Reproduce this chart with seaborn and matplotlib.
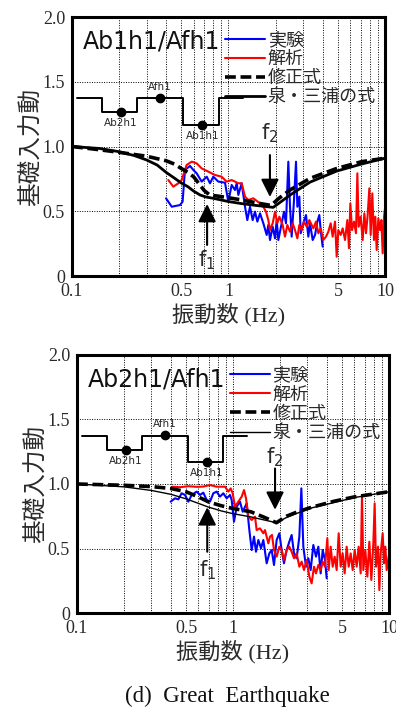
import numpy as np
import pandas as pd
import matplotlib
matplotlib.use('Agg')
import matplotlib.pyplot as plt
from matplotlib.ticker import FixedLocator, NullFormatter
import seaborn as sns

# 1. Dati

# pannello superiore: Ab1h1/Afh1
top_blue_f = [0.399, 0.434, 0.490, 0.509, 0.527, 0.568, 0.596, 0.626, 0.674, 0.726,
              0.762, 0.800, 0.861, 0.950, 0.997, 1.048, 1.100, 1.128, 1.156, 1.214,
              1.275, 1.319, 1.372, 1.427, 1.477, 1.529, 1.590, 1.670, 1.754, 1.797,
              1.842, 1.916, 1.983, 2.032, 2.082, 2.187, 2.263, 2.330, 2.412, 2.472,
              2.533, 2.622, 2.700, 2.754, 2.836, 2.892, 3.008, 3.128, 3.237, 3.318,
              3.451, 3.572, 3.697, 3.806, 3.882, 3.997]
top_blue_v = [0.600, 0.535, 0.548, 0.574, 0.819, 0.850, 0.819, 0.793, 0.729, 0.767,
              0.716, 0.767, 0.729, 0.721, 0.574, 0.703, 0.664, 0.716, 0.626, 0.716,
              0.535, 0.432, 0.535, 0.432, 0.497, 0.420, 0.484, 0.407, 0.317, 0.394,
              0.278, 0.381, 0.291, 0.432, 0.278, 0.407, 0.497, 0.407, 0.883, 0.535,
              0.304, 0.587, 0.883, 0.535, 0.613, 0.330, 0.407, 0.471, 0.304, 0.407,
              0.278, 0.317, 0.420, 0.471, 0.355, 0.227]

top_red_f = [0.4125, 0.444, 0.478, 0.502, 0.540, 0.582, 0.626, 0.674, 0.743, 0.820,
             0.904, 0.973, 1.048, 1.100, 1.156, 1.214, 1.275, 1.339, 1.441, 1.590,
             1.670, 1.736, 1.797, 1.842, 1.916, 1.983, 2.051, 2.113, 2.219, 2.296,
             2.377, 2.472, 2.570, 2.661, 2.754, 2.836, 2.935, 3.038, 3.159, 3.285,
             3.401, 3.485, 3.624, 3.751, 3.882, 4.036, 4.198, 4.345, 4.497, 4.631,
             4.793, 4.912, 5.034, 5.210, 5.366, 5.554, 5.748, 5.889, 6.006, 6.155,
             6.339, 6.528, 6.658, 6.790, 6.992, 7.200, 7.379, 7.562, 7.750, 7.942,
             8.100, 8.300, 8.506, 8.675, 8.847, 9.067, 9.292, 9.478, 9.666, 9.856, 10.0]
top_red_v = [0.741, 0.690, 0.716, 0.741, 0.857, 0.883, 0.870, 0.831, 0.806, 0.780,
             0.767, 0.729, 0.741, 0.729, 0.716, 0.716, 0.613, 0.587, 0.600, 0.561,
             0.535, 0.497, 0.432, 0.355, 0.407, 0.497, 0.407, 0.458, 0.394, 0.304,
             0.394, 0.342, 0.407, 0.355, 0.291, 0.394, 0.355, 0.420, 0.381, 0.432,
             0.394, 0.368, 0.420, 0.330, 0.368, 0.278, 0.304, 0.342, 0.407, 0.304,
             0.420, 0.149, 0.355, 0.317, 0.368, 0.278, 0.432, 0.214, 0.561, 0.355,
             0.420, 0.330, 0.793, 0.381, 0.458, 0.278, 0.484, 0.330, 0.471, 0.677,
             0.317, 0.638, 0.278, 0.458, 0.201, 0.445, 0.355, 0.432, 0.175, 0.458, 0.52]

top_mod_f = [0.1, 0.15, 0.2, 0.3, 0.4, 0.45, 0.5, 0.55, 0.6, 0.65, 0.7, 0.76, 0.88,
             1.18, 1.59, 1.87, 2.1, 2.47, 3.32, 4.9, 7.1, 10.0]
top_mod_v = [1.0, 0.975, 0.955, 0.925, 0.89, 0.865, 0.83, 0.80, 0.765, 0.71, 0.66,
             0.625, 0.615, 0.59, 0.56, 0.545, 0.60, 0.664, 0.754, 0.83, 0.883, 0.91]

top_im_f = [0.1, 0.15, 0.2, 0.25, 0.3, 0.35, 0.4, 0.45, 0.5, 0.55, 0.6, 0.66, 0.72,
            0.8, 1.0, 1.2, 1.5, 1.93, 2.2, 2.47, 3.32, 4.9, 7.1, 10.0]
top_im_v = [1.0, 0.985, 0.96, 0.93, 0.896, 0.857, 0.80, 0.757, 0.718, 0.69, 0.655,
            0.625, 0.61, 0.60, 0.575, 0.56, 0.545, 0.53, 0.58, 0.625, 0.725, 0.81,
            0.865, 0.91]

# pannello inferiore: Ab2h1/Afh1
bot_blue_f = [0.3985, 0.4248, 0.4463, 0.4688, 0.4925, 0.5173, 0.5434, 0.5851, 0.6145,
              0.6455, 0.6780, 0.7120, 0.7482, 0.7860, 0.8255, 0.8672, 0.9110, 0.9570,
              0.9808, 1.015, 1.056, 1.109, 1.154, 1.224, 1.273, 1.318, 1.364, 1.404,
              1.454, 1.512, 1.565, 1.644, 1.710, 1.770, 1.832, 1.905, 1.982, 2.051,
              2.123, 2.208, 2.297, 2.377, 2.461, 2.559, 2.663, 2.743, 2.824, 2.938,
              3.041, 3.147, 3.273, 3.405, 3.525, 3.648, 3.758, 3.890, 3.986]
bot_blue_v = [0.863, 0.889, 0.881, 0.928, 0.915, 0.863, 0.915, 0.941, 0.915, 0.933,
              0.876, 0.863, 0.928, 0.941, 0.902, 0.928, 0.889, 0.915, 0.876, 0.708,
              0.824, 0.863, 0.785, 0.850, 0.643, 0.488, 0.592, 0.475, 0.566, 0.501,
              0.566, 0.385, 0.462, 0.488, 0.372, 0.566, 0.618, 0.488, 0.385, 0.488,
              0.553, 0.605, 0.462, 0.424, 0.592, 0.966, 0.514, 0.359, 0.424, 0.333,
              0.527, 0.437, 0.514, 0.307, 0.488, 0.411, 0.269]

bot_red_f = [0.4105, 0.458, 0.517, 0.585, 0.6455, 0.712, 0.786, 0.8888, 0.9337,
             0.9663, 0.9952, 1.030, 1.082, 1.137, 1.177, 1.212, 1.254, 1.318, 1.384,
             1.418, 1.490, 1.565, 1.604, 1.685, 1.727, 1.778, 1.832, 1.905, 1.982,
             2.051, 2.123, 2.208, 2.297, 2.377, 2.461, 2.559, 2.663, 2.755, 2.852,
             2.967, 3.086, 3.193, 3.306, 3.405, 3.525, 3.648, 3.758, 3.890, 4.025,
             4.105, 4.228, 4.355, 4.486, 4.620, 4.759, 4.901, 5.048, 5.199, 5.354,
             5.515, 5.680, 5.850, 6.026, 6.206, 6.392, 6.583, 6.714, 6.848, 7.053,
             7.264, 7.482, 7.706, 7.937, 8.094, 8.256, 8.503, 8.674, 8.843, 9.111,
             9.292, 9.476, 9.665, 10.0]
bot_red_v = [0.979, 0.975, 0.983, 0.978, 0.980, 0.992, 0.979, 0.979, 0.941, 0.966,
             0.928, 0.824, 0.863, 0.902, 0.953, 0.889, 0.747, 0.721, 0.747, 0.643,
             0.656, 0.618, 0.643, 0.540, 0.592, 0.605, 0.488, 0.437, 0.514, 0.488,
             0.411, 0.488, 0.514, 0.475, 0.424, 0.462, 0.359, 0.398, 0.333, 0.411,
             0.282, 0.230, 0.359, 0.307, 0.372, 0.333, 0.398, 0.359, 0.579, 0.333,
             0.514, 0.359, 0.437, 0.333, 0.618, 0.359, 0.462, 0.307, 0.514, 0.359,
             0.462, 0.333, 0.488, 0.359, 0.514, 0.307, 0.915, 0.333, 0.488, 0.282,
             0.553, 0.256, 0.540, 0.850, 0.359, 0.514, 0.178, 0.462, 0.618, 0.385,
             0.514, 0.333, 0.45]

bot_mod_f = [0.1, 0.2, 0.3, 0.4, 0.5, 0.6, 0.7, 0.85, 1.0, 1.3, 1.6, 1.9, 2.2, 2.6,
             3.2, 4.4, 6.0, 10.0]
bot_mod_v = [1.0, 0.99, 0.98, 0.965, 0.94, 0.90, 0.86, 0.83, 0.81, 0.785, 0.74,
             0.70, 0.75, 0.785, 0.82, 0.865, 0.90, 0.94]

bot_im_f = [0.1, 0.2, 0.3, 0.4, 0.5, 0.6, 0.7, 0.85, 1.0, 1.3, 1.6, 1.9, 2.2, 2.6,
            3.2, 4.4, 6.0, 10.0]
bot_im_v = [1.0, 0.978, 0.95, 0.92, 0.885, 0.85, 0.82, 0.79, 0.77, 0.745, 0.72,
            0.70, 0.74, 0.775, 0.815, 0.855, 0.895, 0.94]

# schema dei punti di misura (uguale nei due pannelli)
scheme_f = [0.107, 0.155, 0.155, 0.262, 0.262, 0.515, 0.515, 0.865, 0.865, 1.23]
scheme_v = [1.372, 1.372, 1.264, 1.264, 1.372, 1.372, 1.170, 1.170, 1.372, 1.372]
point_f = [0.205, 0.366, 0.68]
point_v = [1.264, 1.378, 1.170]
point_names = ['Ab2h1', 'Afh1', 'Ab1h1']

legend_labels = ['実験', '解析', '修正式', '泉・三浦の式']
xtick_vals = [0.1, 0.5, 1, 5, 10]
xtick_labels = ['0.1', '0.5', '1', '5', '10']
ytick_vals = [0, 0.5, 1.0, 1.5, 2.0]
ytick_labels = ['0', '0.5', '1.0', '1.5', '2.0']

# 2. Stile

sns.set_theme(style='white')
plt.rcParams['font.family'] = ['Liberation Serif', 'Noto Sans CJK JP']
plt.rcParams['axes.linewidth'] = 2.2
plt.rcParams['axes.edgecolor'] = 'black'

CJK = ['Noto Sans CJK JP', 'DejaVu Sans']
SANS = ['DejaVu Sans']
GREY = '#2a2a2a'


def draw_panel(ax, title, blue, red, mod, im, im_lw, f1, f2, leg_y):
    sns.lineplot(x=blue[0], y=blue[1], ax=ax, color='#0000ff', lw=1.5,
                 sort=False, estimator=None, label=legend_labels[0])
    sns.lineplot(x=red[0], y=red[1], ax=ax, color='#ff0000', lw=1.5,
                 sort=False, estimator=None, label=legend_labels[1])
    sns.lineplot(x=mod[0], y=mod[1], ax=ax, color='black', lw=2.6,
                 dashes=False, sort=False, estimator=None, label=legend_labels[2])
    ax.lines[-1].set_dashes((3, 1.3))
    sns.lineplot(x=im[0], y=im[1], ax=ax, color='black', lw=im_lw,
                 sort=False, estimator=None, label=legend_labels[3])

    # schema
    sns.lineplot(x=scheme_f, y=scheme_v, ax=ax, color='black', lw=1.4,
                 sort=False, estimator=None)
    ax.plot(point_f, point_v, 'o', color='black', ms=6)
    offs = [-0.085, 0.085, -0.085]
    for f, v, name, o in zip(point_f, point_v, point_names, offs):
        ax.text(f, v + o, name, fontsize=7.5, color=GREY, family=SANS,
                ha='center', va='center')

    ax.text(0.117, 1.81, title, fontsize=17, family=SANS, color='#111111',
            ha='left', va='center')

    # frecce f1, f2
    arrow = dict(arrowstyle='-|>,head_length=0.6,head_width=0.3',
                 mutation_scale=18, lw=1.5, color='black', shrinkA=0, shrinkB=0)
    for (fx, tip, tail, tv), sub in zip([f1, f2], ['1', '2']):
        ax.annotate('', xy=(fx, tip), xytext=(fx, tail), arrowprops=arrow)
        ax.text(fx, tv, 'f$_{' + sub + '}$', fontsize=15, family=SANS,
                color=GREY, ha='center', va='center')

    ax.set_xscale('log')
    ax.set_xlim(0.1, 10)
    ax.set_ylim(0, 2.0)
    ax.xaxis.set_major_locator(FixedLocator(xtick_vals))
    ax.set_xticklabels(xtick_labels)
    ax.xaxis.set_minor_locator(FixedLocator([0.2, 0.3, 0.4, 0.6, 0.7, 0.8, 0.9,
                                             2, 3, 4, 6, 7, 8, 9]))
    ax.xaxis.set_minor_formatter(NullFormatter())
    ax.set_yticks(ytick_vals)
    ax.set_yticklabels(ytick_labels)
    ax.tick_params(which='both', length=0, labelsize=13, labelcolor=GREY, pad=5)
    ax.grid(which='both', ls=(0, (1, 1.5)), color='black', lw=0.7)
    ax.set_axisbelow(True)

    ax.set_xlabel('振動数 (Hz)', fontsize=16, color=GREY, labelpad=2)
    ax.set_ylabel('基礎入力動', fontsize=17, color=GREY, family=CJK, labelpad=0)

    leg = ax.legend(loc='upper left', bbox_to_anchor=(0.49, leg_y), frameon=False,
                    borderpad=0, borderaxespad=0, handlelength=2.2,
                    handletextpad=0.15, labelspacing=0.06, prop={'family': CJK, 'size': 13})
    for t in leg.get_texts():
        t.set_color(GREY)
    leg.get_lines()[2].set_dashes((3, 1.3))


# 3. Figura

fig = plt.figure(figsize=(3.96, 7.09), dpi=100)
ax1 = fig.add_axes([0.1818, 0.6107, 0.7904, 0.3653])
ax2 = fig.add_axes([0.1944, 0.1354, 0.7879, 0.3639])

draw_panel(ax1, 'Ab1h1/Afh1',
           (top_blue_f, top_blue_v), (top_red_f, top_red_v),
           (top_mod_f, top_mod_v), (top_im_f, top_im_v), 2.0,
           (0.73, 0.556, 0.24, 0.12), (1.84, 0.61, 0.934, 1.10), 0.946)
draw_panel(ax2, 'Ab2h1/Afh1',
           (bot_blue_f, bot_blue_v), (bot_red_f, bot_red_v),
           (bot_mod_f, bot_mod_v), (bot_im_f, bot_im_v), 1.0,
           (0.684, 0.82, 0.475, 0.33), (1.86, 0.80, 1.12, 1.21), 0.955)

fig.text(0.573, 0.018, '(d)  Great  Earthquake', fontsize=16.5,
         family=['Liberation Serif'], ha='center', va='center', color='#111111')

fig.savefig('out.png', dpi=100)
